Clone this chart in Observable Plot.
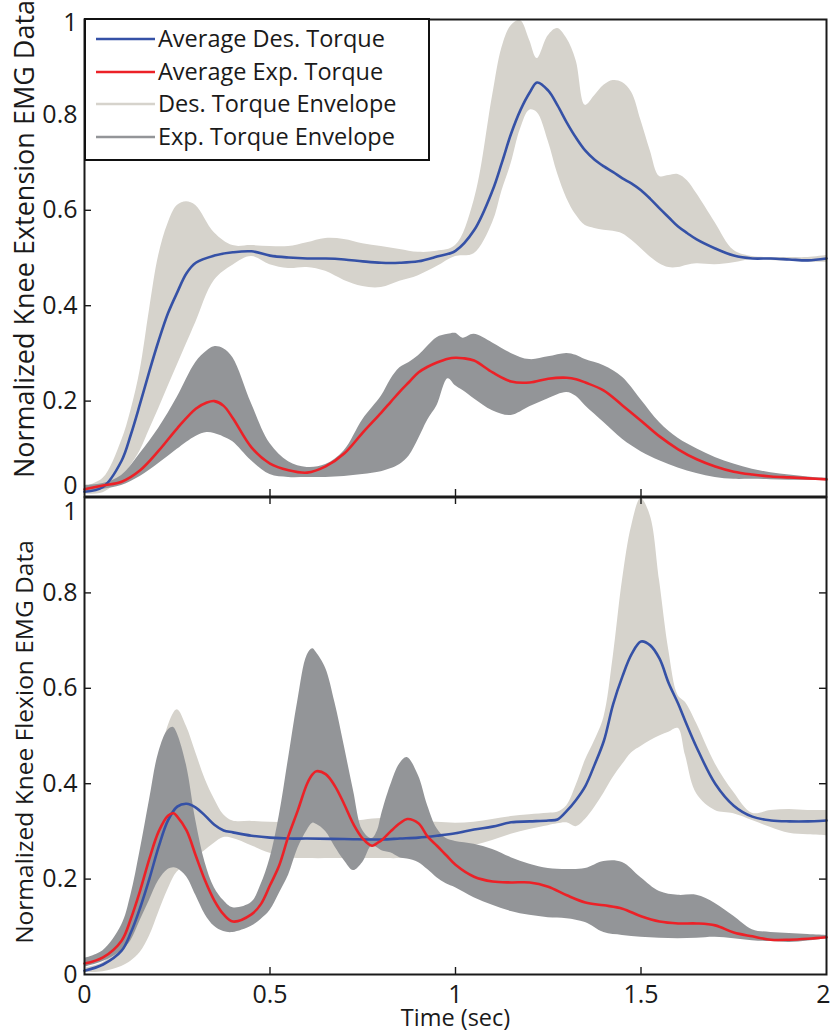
<!DOCTYPE html>
<html>
<head>
<meta charset="utf-8">
<script src="https://cdn.jsdelivr.net/npm/d3@7"></script>
<script src="https://cdn.jsdelivr.net/npm/@observablehq/plot@0.6"></script>
<style>
  body { margin: 0; background: #fff; }
  #chart { position: relative; width: 831px; height: 1034px; font-family: "Open Sans", sans-serif; color: #1a1a1a; }
  #chart svg { position: absolute; left: 0; }
  #legend { position: absolute; left: 84px; top: 18px; width: 346px; height: 143px; box-sizing: border-box;
            border: 2px solid #111; background: #fff; }
  #legend .row { position: absolute; left: 0; height: 32px; line-height: 32px; white-space: nowrap; font-size: 23.5px; }
  #legend .row svg { position: absolute; left: 10px; top: 0; }
  #legend .row span { position: absolute; left: 72px; top: -1px; }
</style>
</head>
<body>
<div id="chart"></div>
<script>
// ---------- Axis ticks ----------
const xTicks = [0, 0.5, 1, 1.5, 2];
const yTicks = [0, 0.2, 0.4, 0.6, 0.8, 1];

// ---------- Knee extension (top panel) ----------
const extDesTime = [0,0.05,0.1,0.125,0.15,0.175,0.2,0.225,0.25,0.275,0.3,0.35,0.4,0.45,0.5,0.55,0.6,0.65,0.7,0.75,
  0.8,0.85,0.9,0.95,1.0,1.05,1.1,1.125,1.15,1.175,1.2,1.22,1.25,1.275,1.3,1.325,1.35,1.375,1.4,1.425,
  1.45,1.475,1.5,1.525,1.55,1.575,1.6,1.625,1.65,1.7,1.75,1.8,1.85,1.9,1.95,2.0];
const extDesUpper = [0.02,0.038,0.117,0.18,0.264,0.39,0.505,0.572,0.61,0.618,0.61,0.553,0.526,0.526,0.524,0.524,0.532,0.541,0.539,0.53,
  0.524,0.518,0.512,0.514,0.526,0.62,0.84,0.94,0.987,0.998,0.956,0.918,0.966,0.981,0.96,0.914,0.82,0.84,0.862,0.872,
  0.868,0.847,0.788,0.725,0.671,0.673,0.675,0.662,0.635,0.574,0.516,0.503,0.501,0.501,0.501,0.505];
const extDesLower = [0.005,0.008,0.038,0.065,0.096,0.14,0.184,0.23,0.275,0.32,0.365,0.453,0.485,0.503,0.486,0.478,0.48,0.472,0.453,0.44,
  0.438,0.451,0.463,0.482,0.503,0.509,0.574,0.64,0.698,0.77,0.81,0.805,0.745,0.677,0.625,0.59,0.568,0.562,0.558,0.556,
  0.551,0.537,0.52,0.502,0.488,0.48,0.48,0.485,0.488,0.486,0.49,0.497,0.495,0.493,0.491,0.491];
const extDesAvg = [0.01,0.02,0.075,0.13,0.195,0.263,0.327,0.384,0.428,0.468,0.49,0.505,0.512,0.514,0.505,0.501,0.499,0.499,0.497,0.493,
  0.49,0.49,0.493,0.503,0.515,0.558,0.642,0.70,0.761,0.81,0.847,0.868,0.851,0.82,0.784,0.752,0.725,0.706,0.692,0.68,
  0.667,0.656,0.642,0.624,0.604,0.585,0.566,0.552,0.539,0.52,0.505,0.499,0.499,0.497,0.495,0.499];

const extExpTime = [0,0.05,0.1,0.15,0.2,0.25,0.3,0.33,0.35,0.375,0.4,0.45,0.5,0.55,0.6,0.65,0.7,0.75,0.8,0.825,
  0.85,0.875,0.9,0.925,0.95,0.98,1.0,1.02,1.05,1.1,1.15,1.2,1.25,1.3,1.325,1.35,1.4,1.45,1.5,1.55,
  1.6,1.65,1.7,1.75,1.8,1.85,1.9,1.95,2.0];
const extExpUpper = [0.023,0.027,0.044,0.09,0.143,0.208,0.281,0.305,0.314,0.31,0.291,0.195,0.111,0.073,0.061,0.067,0.096,0.161,0.21,0.245,
  0.27,0.281,0.295,0.315,0.333,0.34,0.342,0.332,0.34,0.322,0.30,0.287,0.293,0.30,0.296,0.287,0.274,0.25,0.203,0.155,
  0.122,0.10,0.082,0.068,0.057,0.05,0.045,0.041,0.038];
const extExpLower = [0.008,0.015,0.023,0.042,0.069,0.099,0.126,0.134,0.132,0.125,0.115,0.075,0.046,0.04,0.04,0.04,0.042,0.046,0.052,0.058,
  0.067,0.085,0.12,0.16,0.19,0.247,0.232,0.222,0.205,0.18,0.17,0.188,0.205,0.218,0.21,0.19,0.155,0.12,0.094,0.075,
  0.06,0.048,0.04,0.036,0.036,0.035,0.034,0.034,0.034];
const extExpAvg = [0.015,0.023,0.031,0.055,0.096,0.143,0.184,0.197,0.2,0.19,0.164,0.103,0.069,0.055,0.05,0.063,0.09,0.134,0.176,0.198,
  0.22,0.24,0.26,0.272,0.281,0.289,0.291,0.29,0.285,0.26,0.241,0.239,0.247,0.249,0.246,0.239,0.222,0.191,0.159,0.126,
  0.099,0.078,0.063,0.052,0.046,0.042,0.04,0.038,0.036];

// ---------- Knee flexion (bottom panel) ----------
const flxDesTime = [0,0.05,0.1,0.125,0.15,0.175,0.2,0.225,0.25,0.275,0.3,0.325,0.35,0.375,0.4,0.45,0.5,0.55,0.6,0.7,
  0.8,0.85,0.9,0.95,1.0,1.05,1.1,1.15,1.2,1.25,1.275,1.3,1.325,1.35,1.375,1.4,1.425,1.45,1.475,1.5,
  1.525,1.55,1.575,1.6,1.62,1.65,1.7,1.75,1.8,1.85,1.9,1.95,2.0];
const flxDesUpper = [0.013,0.025,0.059,0.107,0.2,0.31,0.425,0.52,0.555,0.52,0.465,0.41,0.368,0.335,0.322,0.321,0.319,0.318,0.317,0.319,
  0.327,0.325,0.321,0.319,0.317,0.319,0.325,0.331,0.335,0.338,0.34,0.354,0.396,0.449,0.49,0.539,0.665,0.826,0.941,0.998,
  0.962,0.826,0.679,0.585,0.57,0.526,0.442,0.382,0.338,0.344,0.346,0.344,0.344];
const flxDesLower = [0.004,0.006,0.017,0.028,0.046,0.08,0.13,0.178,0.215,0.228,0.245,0.26,0.275,0.287,0.285,0.27,0.254,0.245,0.243,0.243,
  0.243,0.243,0.245,0.252,0.26,0.27,0.281,0.294,0.304,0.312,0.316,0.318,0.31,0.325,0.35,0.38,0.413,0.44,0.465,0.478,
  0.49,0.5,0.508,0.516,0.459,0.379,0.344,0.337,0.323,0.308,0.296,0.293,0.291];
const flxDesAvg = [0.008,0.021,0.05,0.088,0.14,0.201,0.268,0.323,0.352,0.358,0.35,0.333,0.314,0.302,0.298,0.291,0.287,0.285,0.285,0.284,
  0.283,0.285,0.287,0.291,0.296,0.304,0.31,0.319,0.321,0.323,0.325,0.343,0.366,0.395,0.44,0.49,0.567,0.625,0.672,0.698,
  0.69,0.662,0.61,0.568,0.53,0.476,0.40,0.354,0.331,0.323,0.321,0.321,0.323];

const flxExpTime = [0,0.05,0.1,0.125,0.15,0.175,0.2,0.225,0.24,0.25,0.275,0.3,0.325,0.35,0.375,0.4,0.45,0.475,0.5,0.525,
  0.55,0.575,0.6,0.615,0.625,0.65,0.675,0.7,0.725,0.75,0.775,0.79,0.8,0.825,0.85,0.87,0.9,0.925,0.95,0.975,
  1.0,1.05,1.1,1.15,1.2,1.25,1.3,1.35,1.4,1.45,1.5,1.55,1.6,1.65,1.7,1.75,1.8,1.85,1.9,1.95,2.0];
const flxExpUpper = [0.034,0.05,0.103,0.166,0.26,0.365,0.465,0.512,0.518,0.505,0.438,0.323,0.235,0.182,0.155,0.14,0.151,0.187,0.243,0.333,
  0.453,0.574,0.669,0.683,0.675,0.642,0.57,0.48,0.386,0.302,0.285,0.302,0.333,0.396,0.442,0.455,0.417,0.354,0.306,0.285,
  0.279,0.273,0.262,0.245,0.231,0.222,0.22,0.222,0.237,0.235,0.203,0.174,0.166,0.166,0.149,0.122,0.094,0.088,0.086,0.084,0.082];
const flxExpLower = [0.015,0.027,0.05,0.071,0.113,0.155,0.197,0.22,0.224,0.222,0.205,0.166,0.126,0.101,0.09,0.088,0.101,0.115,0.134,0.17,
  0.208,0.264,0.302,0.317,0.315,0.3,0.268,0.239,0.218,0.235,0.27,0.265,0.26,0.255,0.245,0.242,0.235,0.22,0.203,0.19,
  0.182,0.161,0.145,0.132,0.124,0.119,0.117,0.109,0.088,0.082,0.078,0.076,0.075,0.076,0.078,0.075,0.071,0.069,0.067,0.07,0.075];
const flxExpAvg = [0.023,0.036,0.071,0.117,0.176,0.243,0.3,0.333,0.338,0.331,0.302,0.249,0.197,0.155,0.126,0.111,0.126,0.147,0.187,0.229,
  0.291,0.344,0.4,0.42,0.426,0.42,0.395,0.357,0.315,0.285,0.27,0.276,0.281,0.3,0.317,0.326,0.317,0.289,0.27,0.25,
  0.23,0.205,0.195,0.193,0.193,0.184,0.166,0.151,0.145,0.138,0.122,0.111,0.107,0.107,0.103,0.088,0.08,0.073,0.073,0.075,0.078];

// ---------- Text ----------
const legendLabels = ["Average Des. Torque", "Average Exp. Torque", "Des. Torque Envelope", "Exp. Torque Envelope"];
const extLabel = "Normalized Knee Extension EMG Data";
const flxLabel = "Normalized Knee Flexion EMG Data";
const xLabel = "Time (sec)";

// ---------- Styling ----------
const LIGHT = "#d6d3cc", DARK = "#939598", BLUE = "#3551a6", RED = "#ec2127", INK = "#1a1a1a";
const legendColors = [BLUE, RED, LIGHT, DARK];
const FONT = "'Open Sans', sans-serif";
const W = 831, ML = 84, MR = 5, PLOT_H = 477;
const PLOT_W = W - ML - MR;
const TICK = 7;
const TICK_FONT = 25;

const band = (time, lo, hi) => time.map((t, i) => ({t, lo: lo[i], hi: hi[i]}));
const series = (time, v) => time.map((t, i) => ({t, v: v[i]}));
const fmt = d => String(d);
const inner = a => a.slice(1, -1);

function panel(o) {
  const yLabel = (vals, dy) => Plot.text(vals, {x: () => 0, y: d => d, text: fmt, textAnchor: "end", dx: -7, dy, fontSize: TICK_FONT, fill: INK});
  const marks = [
    Plot.areaY(band(o.desTime, o.desLower, o.desUpper), {x: "t", y1: "lo", y2: "hi", fill: LIGHT, curve: "catmull-rom"}),
    Plot.areaY(band(o.expTime, o.expLower, o.expUpper), {x: "t", y1: "lo", y2: "hi", fill: DARK, curve: "catmull-rom"}),
    Plot.line(series(o.desTime, o.desAvg), {x: "t", y: "v", stroke: BLUE, strokeWidth: 2.6, curve: "catmull-rom"}),
    Plot.line(series(o.expTime, o.expAvg), {x: "t", y: "v", stroke: RED, strokeWidth: 2.6, curve: "catmull-rom"}),
    Plot.frame({stroke: INK, strokeWidth: 2}),
    // inward tick marks on the left and bottom edges
    Plot.ruleY(inner(yTicks), {y: d => d, insetRight: PLOT_W - TICK, stroke: INK, strokeWidth: 1.4}),
    Plot.ruleX(inner(xTicks), {x: d => d, insetTop: PLOT_H - TICK, stroke: INK, strokeWidth: 1.4}),
    // y tick labels; the end labels are nudged away from the shared border
    yLabel(inner(yTicks), 0),
    yLabel([0], o.zeroShift),
    yLabel([1], o.oneShift),
    // y axis title
    Plot.text([o.label], {frameAnchor: "left", textAnchor: "middle", lineAnchor: "middle", text: d => d, rotate: -90,
                          dx: -59, dy: o.labelShift, fontSize: o.labelSize, fill: INK})
  ];
  if (o.boxTicks) {
    marks.push(
      Plot.ruleY(inner(yTicks), {y: d => d, insetLeft: PLOT_W - TICK, stroke: INK, strokeWidth: 1.4}),
      Plot.ruleX(inner(xTicks), {x: d => d, insetBottom: PLOT_H - TICK, stroke: INK, strokeWidth: 1.4})
    );
  }
  if (o.xLabels) {
    marks.push(
      Plot.text(xTicks.slice(0, -1), {x: d => d, y: () => 0, text: fmt, dy: 20, fontSize: TICK_FONT, fill: INK}),
      // the last label sits against the right edge of the figure
      Plot.text(xTicks.slice(-1), {x: d => d, y: () => 0, text: fmt, dx: -3, dy: 20, fontSize: TICK_FONT, fill: INK}),
      Plot.text([xLabel], {frameAnchor: "bottom", textAnchor: "middle", lineAnchor: "middle", text: d => d, dy: 44, fontSize: 23.5, fill: INK})
    );
  }
  const svg = Plot.plot({
    width: W, height: o.marginTop + PLOT_H + o.marginBottom,
    marginLeft: ML, marginRight: MR, marginTop: o.marginTop, marginBottom: o.marginBottom,
    x: {domain: [0, 2], axis: null},
    y: {domain: [0, 1], axis: null},
    style: {fontFamily: FONT, background: "transparent", overflow: "visible"},
    marks
  });
  svg.style.top = o.top + "px";
  return svg;
}

const chart = document.getElementById("chart");

chart.append(panel({
  top: 0, marginTop: 19, marginBottom: 1,
  desTime: extDesTime, desLower: extDesLower, desUpper: extDesUpper, desAvg: extDesAvg,
  expTime: extExpTime, expLower: extExpLower, expUpper: extExpUpper, expAvg: extExpAvg,
  label: extLabel, labelSize: 27, labelShift: -19, zeroShift: -11, oneShift: 3, boxTicks: false, xLabels: false
}));

chart.append(panel({
  top: 496, marginTop: 1, marginBottom: 60,
  desTime: flxDesTime, desLower: flxDesLower, desUpper: flxDesUpper, desAvg: flxDesAvg,
  expTime: flxExpTime, expLower: flxExpLower, expUpper: flxExpUpper, expAvg: flxExpAvg,
  label: flxLabel, labelSize: 24.5, labelShift: 6, zeroShift: 0, oneShift: 14, boxTicks: true, xLabels: true
}));

// Legend box inside the top panel
const legend = document.createElement("div");
legend.id = "legend";
legendLabels.forEach((name, i) => {
  const row = document.createElement("div");
  row.className = "row";
  row.style.top = (3 + i * 32.6) + "px";
  row.innerHTML = `<svg width="60" height="32"><line x1="0" x2="59" y1="16" y2="16" stroke="${legendColors[i]}" stroke-width="2.6"/></svg><span>${name}</span>`;
  legend.append(row);
});
chart.append(legend);
</script>
</body>
</html>
